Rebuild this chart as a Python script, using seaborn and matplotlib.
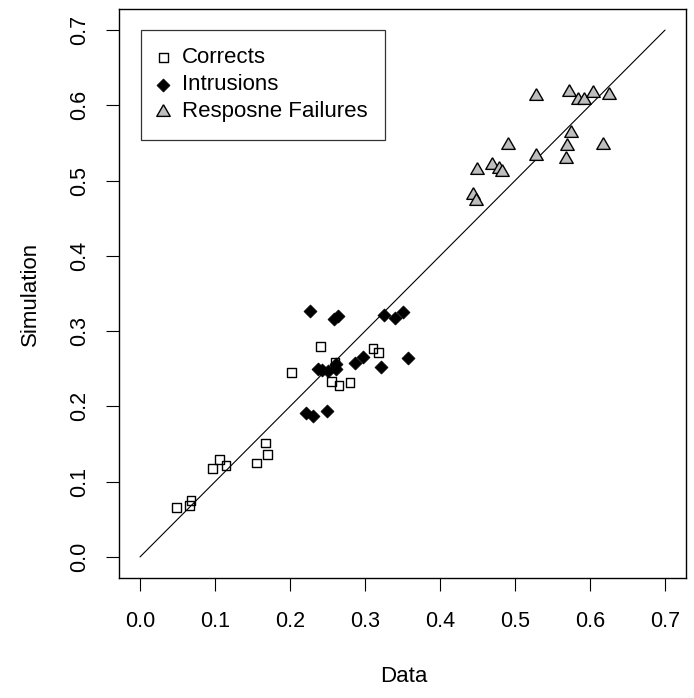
import numpy as np
import pandas as pd
import matplotlib
matplotlib.use("Agg")
import matplotlib.pyplot as plt
import seaborn as sns

# values
correct_data = [0.2404, 0.3107, 0.3178, 0.2600, 0.2556, 0.2653, 0.2800, 0.2023,
                0.1676, 0.1698, 0.1556, 0.0969, 0.1058, 0.1147, 0.0484, 0.0658, 0.0680]
correct_sim = [0.2796, 0.2774, 0.2712, 0.2587, 0.2330, 0.2273, 0.2313, 0.2446,
               0.1514, 0.1362, 0.1247, 0.1172, 0.1292, 0.1216, 0.0652, 0.0679, 0.0750]

intrusion_data = [0.2267, 0.2587, 0.2640, 0.3253, 0.3400, 0.3507, 0.2377, 0.2423, 0.2510,
                  0.2610, 0.2617, 0.2862, 0.2977, 0.3218, 0.3577, 0.2218, 0.2307, 0.2498]
intrusion_sim = [0.3262, 0.3165, 0.3200, 0.3218, 0.3178, 0.3253, 0.2499, 0.2486, 0.2477,
                 0.2499, 0.2566, 0.2580, 0.2654, 0.2520, 0.2646, 0.1913, 0.1877, 0.1935]

failure_data = [0.5276, 0.5720, 0.5840, 0.5920, 0.6044, 0.6253, 0.5740, 0.5698, 0.6170,
                0.5676, 0.4907, 0.5284, 0.4490, 0.4690, 0.4787, 0.4830, 0.4436, 0.4480]
failure_sim = [0.6130, 0.6180, 0.6065, 0.6065, 0.6165, 0.6135, 0.5635, 0.5460, 0.5475,
               0.5285, 0.5475, 0.5325, 0.5145, 0.5212, 0.5155, 0.5115, 0.4805, 0.4735]

line_x = [0.0, 0.7]
line_y = [0.0, 0.7]
ticks = [0.0, 0.1, 0.2, 0.3, 0.4, 0.5, 0.6, 0.7]

sns.set_style("white")
plt.rcParams['font.family'] = ['Liberation Sans', 'DejaVu Sans']
plt.rcParams['text.color'] = 'black'
plt.rcParams['axes.labelcolor'] = 'black'
plt.rcParams['xtick.color'] = 'black'
plt.rcParams['ytick.color'] = 'black'

fig = plt.figure(figsize=(6.94, 6.98), dpi=100)
ax = fig.add_axes([0.1715, 0.1719, 0.8170, 0.8152])

# R-style equilateral triangle (centroid centred)
tri = [(0, 1), (-0.866, -0.5), (0.866, -0.5), (0, 1)]

ax.plot(line_x, line_y, color="black", lw=0.8, zorder=1)

sns.scatterplot(x=correct_data, y=correct_sim, ax=ax, marker="s", s=40,
                color="black", facecolor="none", edgecolor="black",
                linewidth=1.0, label="Corrects", zorder=3)
sns.scatterplot(x=intrusion_data, y=intrusion_sim, ax=ax, marker="D", s=44,
                color="black", edgecolor="black", linewidth=0.5,
                label="Intrusions", zorder=4)
sns.scatterplot(x=failure_data, y=failure_sim, ax=ax, marker=tri, s=125,
                color="#BEBEBE", edgecolor="black", linewidth=1.0,
                label="Resposne Failures", zorder=3)

ax.set_xlim(-0.028, 0.728)
ax.set_ylim(-0.028, 0.728)
ax.set_xticks(ticks)
ax.set_yticks(ticks)
ax.set_xticklabels([f"{t:.1f}" for t in ticks])
ax.set_yticklabels([f"{t:.1f}" for t in ticks], rotation=90, va="center")

for sp in ax.spines.values():
    sp.set_visible(True)
    sp.set_color("black")
    sp.set_linewidth(1.0)

ax.tick_params(axis="both", direction="out", length=9.4, width=0.8,
               colors="black", labelsize=15.5, left=True, bottom=True)
ax.tick_params(axis="x", pad=14.5)
ax.tick_params(axis="y", pad=11.5)

ax.set_xlabel("Data", fontsize=16)
ax.set_ylabel("Simulation", fontsize=16)
ax.xaxis.set_label_coords(0.503, -0.155)
ax.yaxis.set_label_coords(-0.138, 0.5)

leg = ax.legend(loc="upper left", bbox_to_anchor=(0.0388, 0.963), frameon=True,
                fancybox=False, shadow=False, fontsize=16, handlelength=0.45,
                handletextpad=0.62, borderpad=0.78, labelspacing=0.27,
                borderaxespad=0.0)
leg.get_frame().set_edgecolor("black")
leg.get_frame().set_linewidth(0.9)

fig.savefig("out.png", dpi=100)
